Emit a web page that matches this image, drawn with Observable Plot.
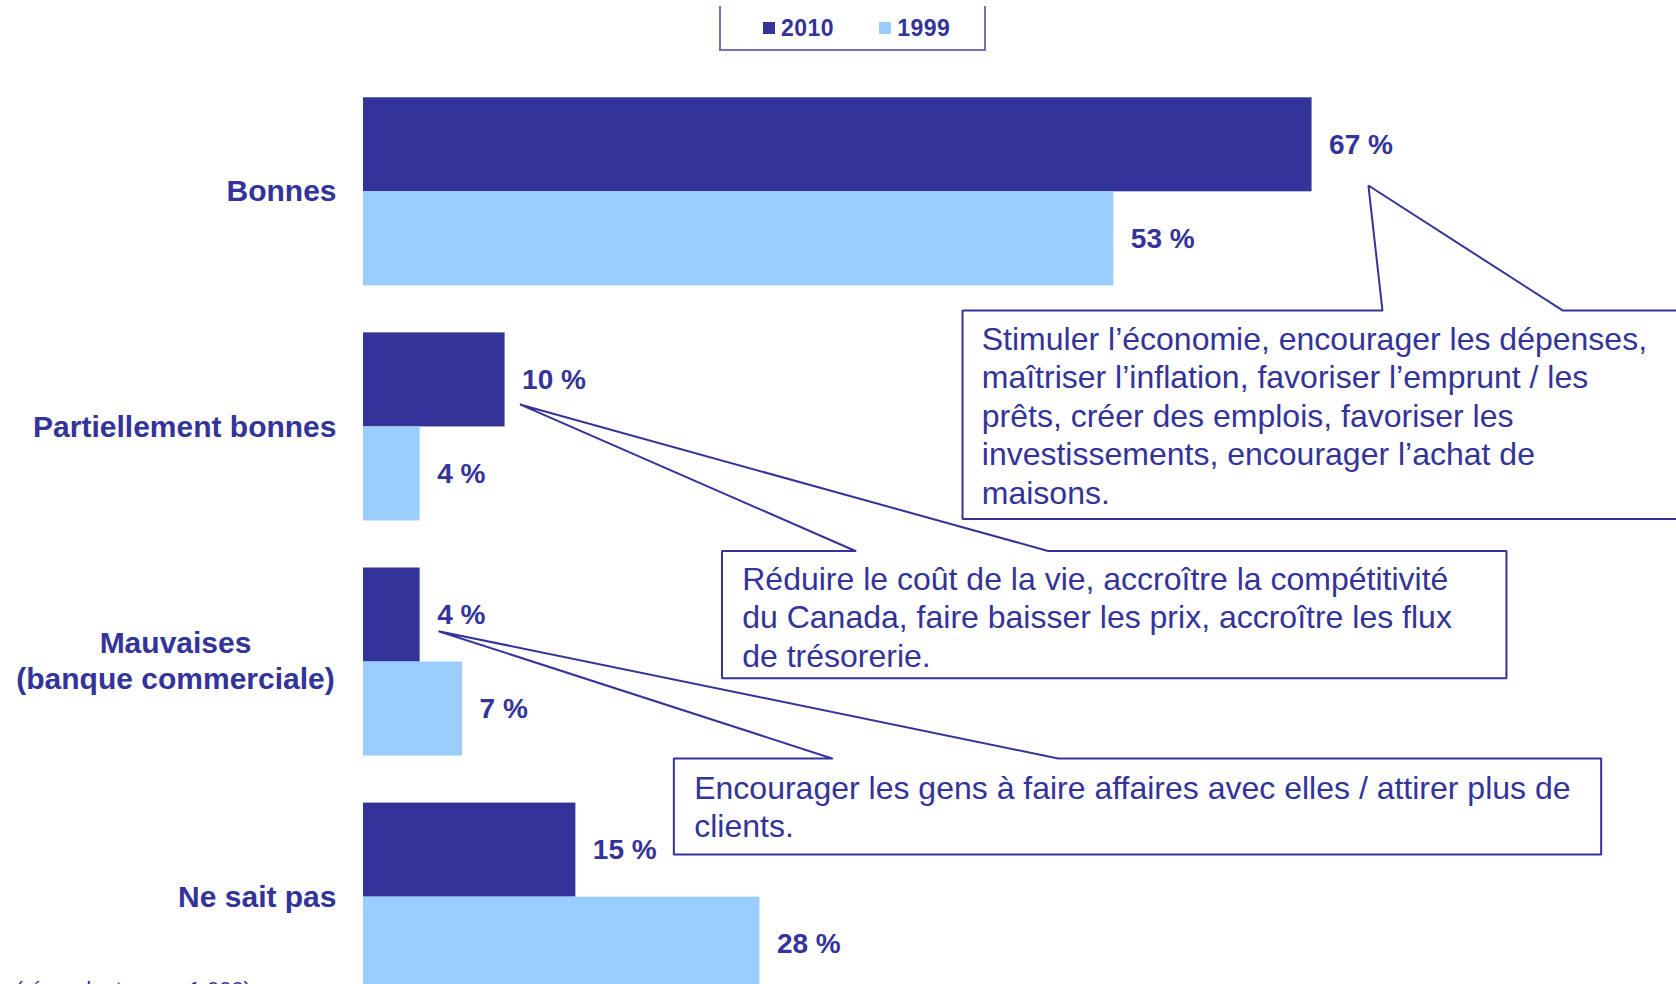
<!DOCTYPE html>
<html><head><meta charset="utf-8">
<script src="https://cdn.jsdelivr.net/npm/d3@7"></script>
<script src="https://cdn.jsdelivr.net/npm/@observablehq/plot@0.6"></script>
<style>
html,body{margin:0;padding:0;background:#fff;overflow:hidden;width:1676px;height:984px;}
body{font-family:"Liberation Sans",Arial,sans-serif;color:#333399;}
#legend{position:relative;height:56px;}
#legend .box{position:absolute;left:719px;top:6px;width:267px;height:45px;box-sizing:border-box;border:2px solid #7272bb;border-top:none;}
#legend .row{position:absolute;left:42px;top:10.5px;display:flex;align-items:center;height:23px;}
#legend .item{display:flex;align-items:center;margin-right:45px;}
#legend .sw{width:12px;height:12px;margin-right:6px;}
#legend .lab{font-weight:bold;font-size:23px;line-height:23px;letter-spacing:0.5px;}
#chart svg{display:block;}
</style></head>
<body>
<div id="legend"><div class="box"><div class="row"></div></div></div>
<div id="chart"></div>
<script>
// ---- data ----
const categories = ["Bonnes", "Partiellement bonnes", "Mauvaises\n(banque commerciale)", "Ne sait pas"];
const series = ["2010", "1999"];
const values2010 = [67, 10, 4, 15];
const values1999 = [53, 4, 7, 28];
const colors = ["#333399", "#99CCFF"];
const note = "(répondants : n = 1 000)";

// callouts: x in % units, y in bar-row units
const calloutTexts = [
  ["Stimuler l’économie, encourager les dépenses,",
   "maîtriser l’inflation, favoriser l’emprunt / les",
   "prêts, créer des emplois, favoriser les",
   "investissements, encourager l’achat de",
   "maisons."],
  ["Réduire le coût de la vie, accroître la compétitivité",
   "du Canada, faire baisser les prix, accroître les flux",
   "de trésorerie."],
  ["Encourager les gens à faire affaires avec elles / attirer plus de",
   "clients."]
];
const calloutTips = [[70.98, 0.933], [11.05, 3.261], [5.30, 5.672]];
const calloutBases = [[71.97, 84.69], [34.75, 48.35], [33.10, 49.07]];
const calloutBoxes = [[42.31, 94.5, 2.261, 4.478], [25.32, 80.73, 4.819, 6.172], [21.92, 87.42, 7.025, 8.047]];
const calloutTextAt = [[43.67, 2.389], [26.75, 4.941], [23.36, 7.164]];

// ---- derived tables ----
const groupStep = 2.5;
const rows = categories.flatMap((category, i) => series.map((s, j) => ({
  category, series: s,
  value: (j === 0 ? values2010 : values1999)[i],
  y1: i * groupStep + j, y2: i * groupStep + j + 1
})));
const catRows = categories.map((label, i) => ({label, y: i * groupStep + 1}));

const calloutPoints = calloutTexts.flatMap((_, k) => {
  const [tx, ty] = calloutTips[k];
  const [b1, b2] = calloutBases[k];
  const [l, r, t, b] = calloutBoxes[k];
  return [[b1, t], [tx, ty], [b2, t], [r, t], [r, b], [l, b], [l, t], [b1, t]]
    .map(([x, y]) => ({id: k, x, y}));
});
const calloutRows = calloutTexts.map((lines, k) => ({text: lines.join("\n"), x: calloutTextAt[k][0], y: calloutTextAt[k][1]}));

// ---- legend ----
const row = document.querySelector("#legend .row");
series.forEach((s, i) => {
  const item = document.createElement("div");
  item.className = "item";
  item.innerHTML = `<div class="sw" style="background:${colors[i]}"></div><div class="lab">${s}</div>`;
  row.appendChild(item);
});

// ---- chart ----
const ink = "#333399";
const chart = Plot.plot({
  width: 1676, height: 928,
  marginLeft: 363, marginRight: 0, marginTop: 0, marginBottom: 0,
  x: {domain: [0, 92.74], axis: null},
  y: {domain: [-0.439, 9.429], reverse: true, axis: null},
  color: {domain: series, range: colors},
  style: {background: "white", fontFamily: "'Liberation Sans', Arial, sans-serif", overflow: "visible"},
  marks: [
    Plot.rect(rows, {x1: 0, x2: "value", y1: "y1", y2: "y2", fill: "series"}),
    Plot.text(rows, {x: "value", y: d => (d.y1 + d.y2) / 2, text: d => `${d.value} %`, dx: 17,
      textAnchor: "start", fontSize: 28, fontWeight: "bold", fill: ink}),
    Plot.text(catRows.filter(d => !d.label.includes("\n")), {x: 0, y: "y", text: "label", dx: -27,
      textAnchor: "end", fontSize: 30, fontWeight: "bold", fill: ink}),
    Plot.text(catRows.filter(d => d.label.includes("\n")), {x: 0, y: "y", text: "label", dx: -188, dy: -3,
      textAnchor: "middle", lineHeight: 1.21, fontSize: 30, fontWeight: "bold", fill: ink}),
    Plot.line(calloutPoints, {x: "x", y: "y", z: "id", stroke: ink, strokeWidth: 2, curve: "linear", strokeLinejoin: "miter"}),
    Plot.text(calloutRows, {x: "x", y: "y", text: "text", textAnchor: "start", lineAnchor: "top",
      lineHeight: 1.203, fontSize: 32, fill: ink}),
    Plot.text([note], {x: 0, y: 9.397, text: d => d, dx: -348, textAnchor: "start", lineAnchor: "top",
      fontSize: 22, fill: ink})
  ]
});
document.getElementById("chart").appendChild(chart);
</script>
</body></html>
